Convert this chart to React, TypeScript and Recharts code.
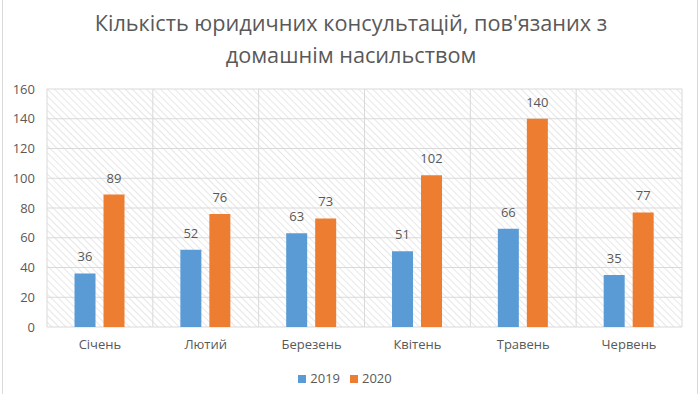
import React from "react";
import { BarChart, Bar, XAxis, YAxis, CartesianGrid, Legend, LabelList } from "recharts";

const months = ["Січень", "Лютий", "Березень", "Квітень", "Травень", "Червень"];
const values2019 = [36, 52, 63, 51, 66, 35];
const values2020 = [89, 76, 73, 102, 140, 77];
const yTicks = [0, 20, 40, 60, 80, 100, 120, 140, 160];
const titleLines = ["Кількість юридичних консультацій, пов'язаних з", "домашнім насильством"];

const data = months.map((m, i) => ({ month: m, y2019: values2019[i], y2020: values2020[i] }));

const FONT = "'Open Sans', 'Liberation Sans', sans-serif";
const TEXT = "#595959";

export default function App() {
  return (
    <div style={{ position: "absolute", left: 0, top: 0, width: 700, height: 394, background: "#fff", fontFamily: FONT }}>
      <svg width="0" height="0" style={{ position: "absolute" }}>
        <defs>
          <pattern id="hatch" width="5" height="5" patternUnits="userSpaceOnUse" patternTransform="rotate(-45)">
            <rect width="5" height="5" fill="#ffffff" />
            <line x1="0" y1="0" x2="0" y2="5" stroke="#e0e0e0" strokeWidth="1.5" />
          </pattern>
        </defs>
      </svg>
      <div style={{ position: "absolute", left: 2, top: 0, width: 694, height: 394, borderLeft: "1px solid #d9d9d9", borderRight: "1px solid #d9d9d9" }} />
      <div style={{ position: "absolute", left: 0, top: 7, width: 702, textAlign: "center", color: TEXT, fontSize: 21.7, lineHeight: "32px" }}>
        {titleLines.map((t) => (
          <div key={t}>{t}</div>
        ))}
      </div>
      <div style={{ position: "absolute", left: 0, top: 0 }}>
        <BarChart
          width={700}
          height={394}
          data={data}
          margin={{ top: 89, right: 18, bottom: 37, left: 0 }}
          barCategoryGap="26%"
          barGap={8}
        >
          <CartesianGrid
            stroke="#d9d9d9"
            fill="url(#hatch)"
            fillOpacity={1}
            verticalCoordinatesGenerator={({ offset }: any) =>
              Array.from({ length: months.length + 1 }, (_, i) => offset.left + (i * offset.width) / months.length)
            }
          />
          <XAxis
            dataKey="month"
            axisLine={false}
            tickLine={false}
            tickSize={0}
            tickMargin={13}
            height={30}
            tick={{ fill: TEXT, fontSize: 13 }}
          />
          <YAxis
            domain={[0, 160]}
            ticks={yTicks}
            axisLine={false}
            tickLine={false}
            tickSize={0}
            tickMargin={12}
            width={47}
            tick={{ fill: TEXT, fontSize: 13 }}
          />
          <Legend
            layout="horizontal"
            verticalAlign="middle"
            align="center"
            iconType="square"
            iconSize={8}
            wrapperStyle={{ top: 366, left: 0, width: 700 }}
            formatter={(v: string) => <span style={{ color: TEXT, fontSize: 13 }}>{v}</span>}
          />
          <Bar dataKey="y2019" name="2019" fill="#5B9BD5" isAnimationActive={false}>
            <LabelList dataKey="y2019" position="top" offset={12} fill={TEXT} fontSize={13} />
          </Bar>
          <Bar dataKey="y2020" name="2020" fill="#ED7D31" isAnimationActive={false}>
            <LabelList dataKey="y2020" position="top" offset={12} fill={TEXT} fontSize={13} />
          </Bar>
        </BarChart>
      </div>
    </div>
  );
}
